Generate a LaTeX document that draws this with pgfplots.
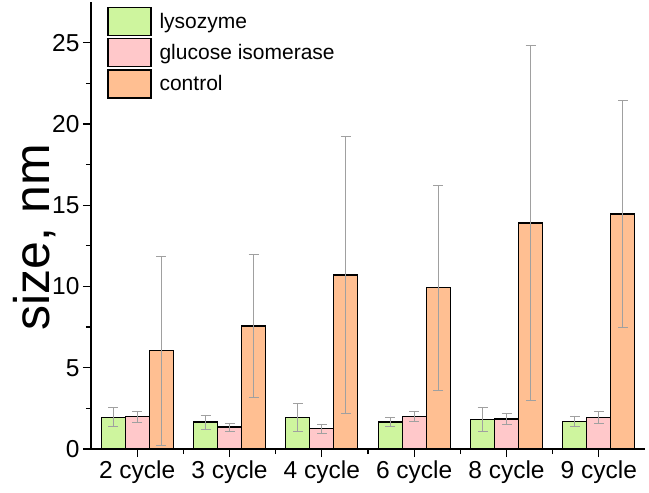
\documentclass[border=0pt]{standalone}
\usepackage{pgfplots}
\pgfplotsset{compat=1.18}
\usepackage{pgfplotstable}
\usepackage{fontspec}
\setmainfont{Liberation Sans}
\definecolor{cgreen}{RGB}{206,245,158}
\definecolor{cpink}{RGB}{255,200,202}
\definecolor{corange}{RGB}{255,191,146}
\definecolor{cerr}{RGB}{160,160,160}
\pgfplotstableread{
x g ge p pe o oe
0 1.95 0.58 1.99 0.33 6.05 5.82
1 1.66 0.43 1.35 0.25 7.57 4.41
2 1.95 0.85 1.25 0.29 10.70 8.50
3 1.66 0.27 1.99 0.32 9.93 6.30
4 1.80 0.75 1.85 0.36 13.90 10.90
5 1.68 0.32 1.93 0.35 14.45 7.00
}\data
\begin{document}
\begin{tikzpicture}
\begin{axis}[
  scale only axis,
  width=554pt, height=447pt,
  xmin=-0.5, xmax=5.5,
  ymin=0, ymax=27.5,
  axis x line*=bottom, axis y line*=left,
  axis line style={line width=1.3pt},
  ybar=0pt, bar width=24pt,
  xtick={0,...,5},
  xticklabels={2 cycle,3 cycle,4 cycle,6 cycle,8 cycle,9 cycle},
  minor xtick={0.5,1.5,2.5,3.5,4.5},
  ytick={0,5,10,15,20,25},
  minor ytick={2.5,7.5,12.5,17.5,22.5},
  tick align=outside,
  major tick length=8pt, minor tick length=5pt,
  every tick/.style={black, line width=1.3pt},
  tick label style={font=\fontsize{24.5}{27}\selectfont},
  /pgf/number format/assume math mode=true,
  ylabel={size, nm},
  every axis y label/.style={at={(axis description cs:-0.101,0.474)},rotate=90,anchor=center,font=\fontsize{50}{54}\selectfont},
  legend style={at={(axis description cs:0.029,0.99)}, anchor=north west, draw=none, fill=none,
    font=\fontsize{21}{23}\selectfont, row sep=2pt, inner sep=0pt,
    nodes={inner sep=0pt}},
  legend cell align=left,
  legend image code/.code={\draw[#1, line width=1.3pt] (0pt,-14pt) rectangle (43pt,14pt);},
  /tikz/every even column/.append style={column sep=0pt},
  /tikz/every odd column/.append style={column sep=8pt},
  error bars/y dir=both, error bars/y explicit,
  error bars/error mark=-,
  error bars/error bar style={cerr, line width=0.9pt},
  error bars/error mark options={rotate=90, cerr, mark size=5pt, line width=0.9pt},
]
\addplot[fill=cgreen, draw=black, line width=1.3pt] table[x=x, y=g, y error=ge] {\data};
\addplot[fill=cpink, draw=black, line width=1.3pt] table[x=x, y=p, y error=pe] {\data};
\addplot[fill=corange, draw=black, line width=1.3pt] table[x=x, y=o, y error=oe] {\data};
\legend{lysozyme, glucose isomerase, control}
\end{axis}
\path ([shift={(-91pt,-43pt)}]current axis.south west) rectangle ([shift={(4pt,2pt)}]current axis.north east);
\end{tikzpicture}
\end{document}
